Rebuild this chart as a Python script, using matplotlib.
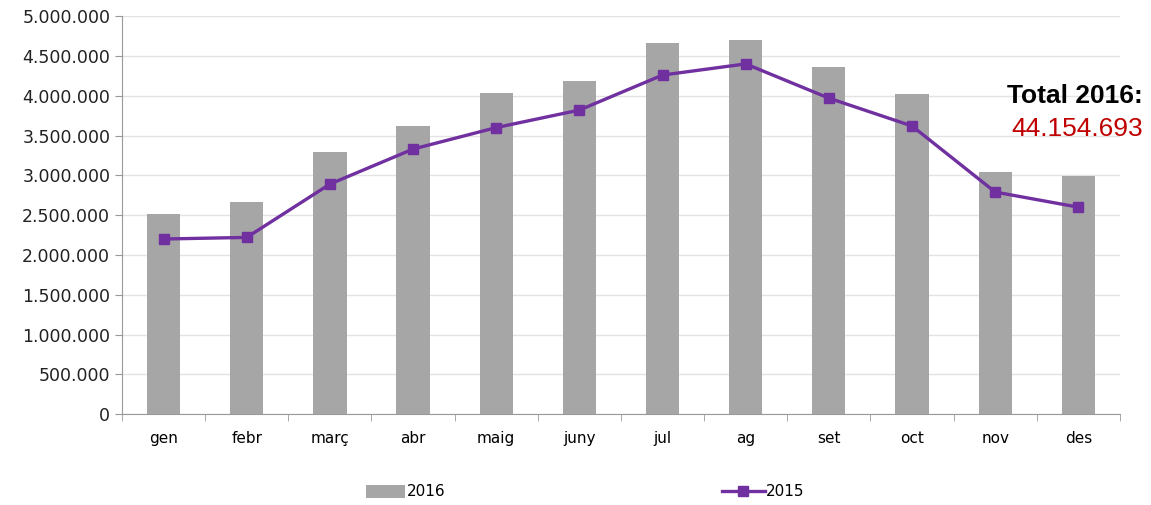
import numpy as np
import matplotlib
matplotlib.use("Agg")
import matplotlib.pyplot as plt
from matplotlib.ticker import FuncFormatter, FixedLocator

months = ["gen", "febr", "març", "abr", "maig", "juny", "jul", "ag", "set", "oct", "nov", "des"]
v2016 = [2510000, 2660000, 3290000, 3620000, 4030000, 4190000, 4660000, 4700000, 4360000, 4020000, 3040000, 2990000]
v2015 = [2200000, 2220000, 2890000, 3330000, 3600000, 3820000, 4260000, 4400000, 3970000, 3620000, 2790000, 2600000]
total_label = "44.154.693"

fig = plt.figure(figsize=(11.51, 5.05), dpi=100)
ax = fig.add_axes([0.106, 0.180, 0.867, 0.788])

x = np.arange(len(months))
bars = ax.bar(x, v2016, width=0.40, color="#a6a6a6", zorder=2, label="2016")
line, = ax.plot(x, v2015, color="#7030a0", lw=2.4, marker="s", markersize=7,
                zorder=3, label="2015")

ax.set_xlim(-0.5, len(months) - 0.5)
ax.set_ylim(0, 5000000)
ax.set_yticks(np.arange(0, 5000001, 500000))
ax.yaxis.set_major_formatter(FuncFormatter(lambda v, p: f"{int(v):,}".replace(",", ".")))
ax.grid(axis="y", color="#e3e3e3", lw=1, zorder=0)

ax.set_xticks(x)
ax.set_xticklabels(months, fontsize=11)
ax.xaxis.set_minor_locator(FixedLocator(np.arange(-0.5, len(months), 1)))
ax.tick_params(axis="x", which="major", length=0, pad=12)
ax.tick_params(axis="x", which="minor", length=5, color="#999999", direction="out")
ax.tick_params(axis="y", length=5, color="#999999", labelsize=12.5, labelcolor="#222222")

for s in ["top", "right"]:
    ax.spines[s].set_visible(False)
for s in ["left", "bottom"]:
    ax.spines[s].set_color("#999999")

fig.text(1143 / 1151, 1 - 96 / 505, "Total 2016:", ha="right", va="center",
         fontsize=19, fontweight="bold", family="Liberation Sans", color="black")
fig.text(1143 / 1151, 1 - 129 / 505, total_label, ha="right", va="center",
         fontsize=19, family="Liberation Sans", color="#c00000")

leg1 = fig.legend(handles=[bars], loc="center left", bbox_to_anchor=(352 / 1151, 1 - 492 / 505),
                  frameon=False, fontsize=11, handlelength=2.6, handleheight=0.9, handletextpad=0.1)
fig.legend(handles=[line], loc="center left", bbox_to_anchor=(708 / 1151, 1 - 492 / 505),
           frameon=False, fontsize=11, handlelength=2.8, handletextpad=0.1)

fig.savefig("out.png", dpi=100)
